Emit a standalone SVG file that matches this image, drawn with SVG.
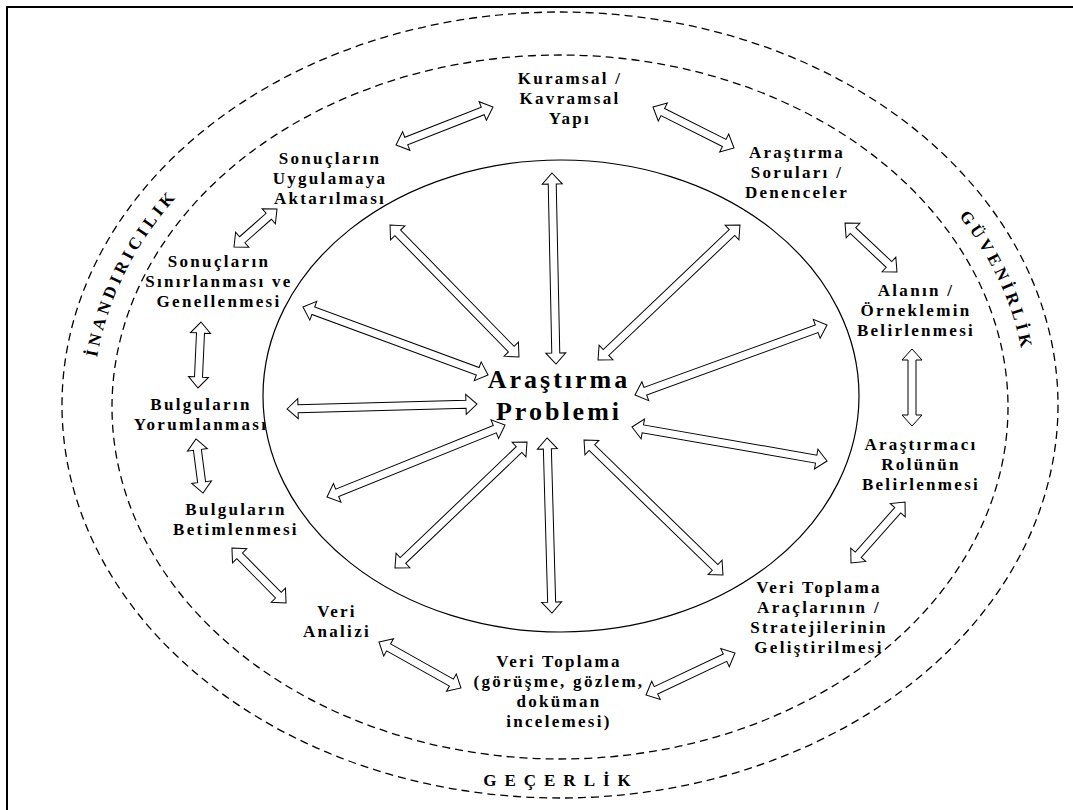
<svg xmlns="http://www.w3.org/2000/svg" width="1073" height="810" viewBox="0 0 1073 810">
<style>
.lbl{font-family:"Liberation Serif","Times New Roman",serif;font-weight:bold;font-size:17px;letter-spacing:2.3px;text-anchor:middle;fill:#000}
.big{font-family:"Liberation Serif","Times New Roman",serif;font-weight:bold;font-size:26px;letter-spacing:3px;text-anchor:middle;fill:#000}
.arc{font-family:"Liberation Serif","Times New Roman",serif;font-weight:bold;font-size:17px;letter-spacing:4px;text-anchor:middle;fill:#000}
.dash{fill:none;stroke:#000;stroke-width:1.3;stroke-dasharray:8 5}
.arr{fill:#fff;stroke:#000;stroke-width:1;stroke-linejoin:miter}
</style>
<defs>
<path id="arcPath" d="M93 406A467 366 0 0 1 1027 406"/>
</defs>
<rect x="0" y="0" width="1073" height="810" fill="#fff"/>
<g id="frame">
<rect x="7" y="7" width="1100" height="850" fill="none" stroke="#000" stroke-width="2"/>
<ellipse class="dash" cx="560" cy="405" rx="498" ry="393"/>
<ellipse class="dash" cx="560" cy="407" rx="448" ry="352"/>
<ellipse cx="561" cy="396" rx="298" ry="236" fill="none" stroke="#000" stroke-width="1.2"/>
</g>
<g id="criteria">
<text class="arc"><textPath href="#arcPath" startOffset="10.7%">İNANDIRICILIK</textPath></text>
<text class="arc"><textPath href="#arcPath" startOffset="90.1%">GÜVENİRLİK</textPath></text>
<text class="arc" x="561" y="786" style="letter-spacing:8px">GEÇERLİK</text>
</g>
<g id="connectors">
<path class="arr" transform="translate(554,268.5) rotate(88.8)" d="M-95.5 0L-84.5-10V-4H84.5V-10L95.5 0L84.5 10V4H-84.5V10Z"/>
<path class="arr" transform="translate(454.5,291) rotate(45.7)" d="M-92.3 0L-81.3-10V-4H81.3V-10L92.3 0L81.3 10V4H-81.3V10Z"/>
<path class="arr" transform="translate(395.5,341) rotate(20.2)" d="M-98.6 0L-87.6-10V-4H87.6V-10L98.6 0L87.6 10V4H-87.6V10Z"/>
<path class="arr" transform="translate(382,406.5) rotate(-1.5)" d="M-95 0L-84-10V-4H84V-10L95 0L84 10V4H-84V10Z"/>
<path class="arr" transform="translate(416,461) rotate(-22)" d="M-96 0L-85-10V-4H85V-10L96 0L85 10V4H-85V10Z"/>
<path class="arr" transform="translate(461,505) rotate(-43.7)" d="M-91.3 0L-80.3-10V-4H80.3V-10L91.3 0L80.3 10V4H-80.3V10Z"/>
<path class="arr" transform="translate(549.5,525.5) rotate(88.4)" d="M-87.6 0L-76.6-10V-4H76.6V-10L87.6 0L76.6 10V4H-76.6V10Z"/>
<path class="arr" transform="translate(653.5,507.5) rotate(44.2)" d="M-96.9 0L-85.9-10V-4H85.9V-10L96.9 0L85.9 10V4H-85.9V10Z"/>
<path class="arr" transform="translate(729.5,444) rotate(9.9)" d="M-99 0L-88-10V-4H88V-10L99 0L88 10V4H-88V10Z"/>
<path class="arr" transform="translate(731,360) rotate(-20)" d="M-102.2 0L-91.2-10V-4H91.2V-10L102.2 0L91.2 10V4H-91.2V10Z"/>
<path class="arr" transform="translate(669,292.5) rotate(-43.6)" d="M-98 0L-87-10V-4H87V-10L98 0L87 10V4H-87V10Z"/>
<path class="arr" transform="translate(444.5,126) rotate(-21.4)" d="M-52.1 0L-41.1-10V-4H41.1V-10L52.1 0L41.1 10V4H-41.1V10Z"/>
<path class="arr" transform="translate(693.5,127.5) rotate(26.8)" d="M-45.4 0L-34.4-10V-4H34.4V-10L45.4 0L34.4 10V4H-34.4V10Z"/>
<path class="arr" transform="translate(255.5,228) rotate(-41.5)" d="M-28.7 0L-17.7-10V-4H17.7V-10L28.7 0L17.7 10V4H-17.7V10Z"/>
<path class="arr" transform="translate(871,247.5) rotate(43.3)" d="M-35.7 0L-24.7-10V-4H24.7V-10L35.7 0L24.7 10V4H-24.7V10Z"/>
<path class="arr" transform="translate(199.5,355) rotate(92.6)" d="M-33 0L-22-10V-4H22V-10L33 0L22 10V4H-22V10Z"/>
<path class="arr" transform="translate(912,387.5) rotate(90)" d="M-38.5 0L-27.5-10V-4H27.5V-10L38.5 0L27.5 10V4H-27.5V10Z"/>
<path class="arr" transform="translate(199.5,466) rotate(82.6)" d="M-27.3 0L-16.3-10V-4H16.3V-10L27.3 0L16.3 10V4H-16.3V10Z"/>
<path class="arr" transform="translate(878,532.5) rotate(-48.5)" d="M-40.8 0L-29.8-10V-4H29.8V-10L40.8 0L29.8 10V4H-29.8V10Z"/>
<path class="arr" transform="translate(259,575.5) rotate(45.5)" d="M-38.6 0L-27.6-10V-4H27.6V-10L38.6 0L27.6 10V4H-27.6V10Z"/>
<path class="arr" transform="translate(420,665) rotate(29.3)" d="M-47 0L-36-10V-4H36V-10L47 0L36 10V4H-36V10Z"/>
<path class="arr" transform="translate(690.5,674) rotate(-25.3)" d="M-49.2 0L-38.2-10V-4H38.2V-10L49.2 0L38.2 10V4H-38.2V10Z"/>
</g>
<g id="n-center">
<text class="big" x="559" y="388">Araştırma</text>
<text class="big" x="559" y="420">Problemi</text>
</g>
<g id="n-kuramsal">
<text class="lbl" x="570" y="84">Kuramsal /</text>
<text class="lbl" x="570" y="104">Kavramsal</text>
<text class="lbl" x="570" y="124">Yapı</text>
</g>
<g id="n-sorular">
<text class="lbl" x="797" y="158">Araştırma</text>
<text class="lbl" x="797" y="178">Soruları /</text>
<text class="lbl" x="797" y="198">Denenceler</text>
</g>
<g id="n-alan">
<text class="lbl" x="916" y="296">Alanın /</text>
<text class="lbl" x="916" y="316">Örneklemin</text>
<text class="lbl" x="916" y="336">Belirlenmesi</text>
</g>
<g id="n-arastirmaci">
<text class="lbl" x="921" y="450">Araştırmacı</text>
<text class="lbl" x="921" y="470">Rolünün</text>
<text class="lbl" x="921" y="490">Belirlenmesi</text>
</g>
<g id="n-araclar">
<text class="lbl" x="819" y="593">Veri Toplama</text>
<text class="lbl" x="819" y="613">Araçlarının /</text>
<text class="lbl" x="819" y="633">Stratejilerinin</text>
<text class="lbl" x="819" y="653">Geliştirilmesi</text>
</g>
<g id="n-veritoplama">
<text class="lbl" x="559" y="667">Veri Toplama</text>
<text class="lbl" x="559" y="687">(görüşme, gözlem,</text>
<text class="lbl" x="559" y="707">doküman</text>
<text class="lbl" x="559" y="727">incelemesi)</text>
</g>
<g id="n-analiz">
<text class="lbl" x="337" y="617">Veri</text>
<text class="lbl" x="337" y="637">Analizi</text>
</g>
<g id="n-betimleme">
<text class="lbl" x="236" y="515">Bulguların</text>
<text class="lbl" x="236" y="535">Betimlenmesi</text>
</g>
<g id="n-yorumlama">
<text class="lbl" x="201" y="410">Bulguların</text>
<text class="lbl" x="201" y="430">Yorumlanması</text>
</g>
<g id="n-genelleme">
<text class="lbl" x="219" y="267">Sonuçların</text>
<text class="lbl" x="219" y="287">Sınırlanması ve</text>
<text class="lbl" x="219" y="307">Genellenmesi</text>
</g>
<g id="n-uygulama">
<text class="lbl" x="330" y="164">Sonuçların</text>
<text class="lbl" x="330" y="184">Uygulamaya</text>
<text class="lbl" x="330" y="204">Aktarılması</text>
</g>
</svg>
